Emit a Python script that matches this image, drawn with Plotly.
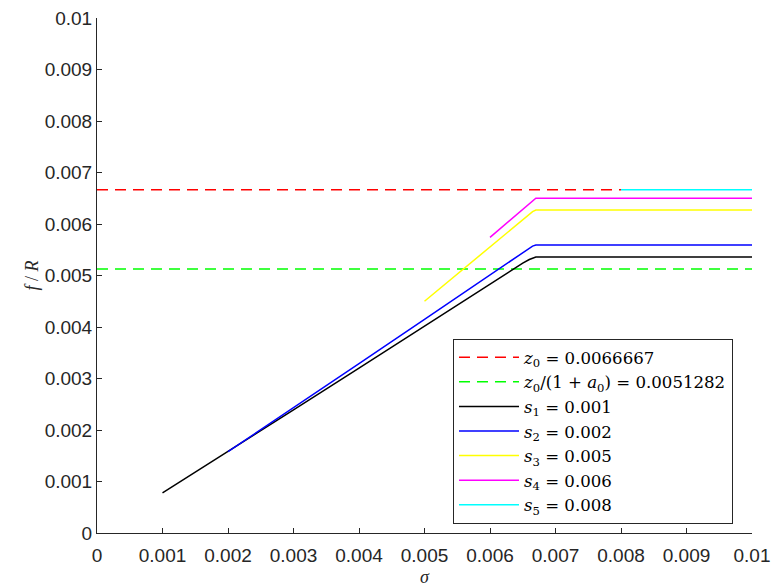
import plotly.graph_objects as go

# ---- data ----
z0 = 0.0066667
z0_a0 = 0.0051282

red_x = [0.0, 0.008]
red_y = [z0, z0]
green_x = [0.0, 0.01]
green_y = [z0_a0, z0_a0]

s1_x = [0.001, 0.002, 0.003, 0.004, 0.005, 0.006, 0.0065, 0.0066, 0.00665, 0.0067, 0.01]
s1_y = [0.00078, 0.00158, 0.00239, 0.00320, 0.00402, 0.00484, 0.00524, 0.00531, 0.00534, 0.00536, 0.00536]

s2_x = [0.002, 0.003, 0.004, 0.005, 0.006, 0.0065, 0.0066, 0.00665, 0.0067, 0.01]
s2_y = [0.00158, 0.00243, 0.00329, 0.00415, 0.00501, 0.00544, 0.00553, 0.00557, 0.00559, 0.00559]

s3_x = [0.005, 0.006, 0.0065, 0.0066, 0.00665, 0.0067, 0.01]
s3_y = [0.00450, 0.00555, 0.00608, 0.00618, 0.00624, 0.00627, 0.00627]

s4_x = [0.006, 0.0065, 0.0066, 0.00665, 0.0067, 0.01]
s4_y = [0.00574, 0.00629, 0.00640, 0.00646, 0.00650, 0.00650]

s5_x = [0.008, 0.01]
s5_y = [z0, z0]

tick_vals = [0, 0.001, 0.002, 0.003, 0.004, 0.005, 0.006, 0.007, 0.008, 0.009, 0.01]
tick_text = ["0", "0.001", "0.002", "0.003", "0.004", "0.005", "0.006", "0.007", "0.008", "0.009", "0.01"]

names = [
    "<i>z</i><sub>0</sub> = 0.0066667",
    "<i>z</i><sub>0</sub>/(1 + <i>a</i><sub>0</sub>) = 0.0051282",
    "<i>s</i><sub>1</sub> = 0.001",
    "<i>s</i><sub>2</sub> = 0.002",
    "<i>s</i><sub>3</sub> = 0.005",
    "<i>s</i><sub>4</sub> = 0.006",
    "<i>s</i><sub>5</sub> = 0.008",
]

series = [
    (red_x, red_y, "#ff0000", "11px,7px"),
    (green_x, green_y, "#00ff00", "11px,7px"),
    (s1_x, s1_y, "#000000", "solid"),
    (s2_x, s2_y, "#0000ff", "solid"),
    (s3_x, s3_y, "#ffff00", "solid"),
    (s4_x, s4_y, "#ff00ff", "solid"),
    (s5_x, s5_y, "#00ffff", "solid"),
]

fig = go.Figure()
for (xs, ys, c, d), nm in zip(series, names):
    fig.add_trace(go.Scatter(x=xs, y=ys, mode="lines", name=nm,
                             line=dict(color=c, width=1.5, dash=d)))

axis_common = dict(
    showline=True, linecolor="#262626", linewidth=1,
    ticks="inside", ticklen=5, tickcolor="#262626", tickwidth=1,
    showgrid=False, zeroline=False, mirror=False, automargin=False,
    tickvals=tick_vals, ticktext=tick_text,
    tickfont=dict(family="Liberation Sans, Arial, sans-serif", size=19, color="#262626"),
)

fig.update_layout(
    width=773, height=587,
    margin=dict(l=97, r=21, t=18, b=54),
    paper_bgcolor="white", plot_bgcolor="white",
    xaxis=dict(range=[0, 0.01], ticklabelstandoff=5,
               title=dict(text="<i>σ</i>", standoff=5,
                          font=dict(family="Liberation Serif, serif", size=18, color="#262626")),
               **axis_common),
    yaxis=dict(range=[0, 0.01],
               title=dict(text="<i>f</i> / <i>R</i>", standoff=1,
                          font=dict(family="Liberation Serif, serif", size=18, color="#262626")),
               **axis_common),
    legend=dict(x=0.5435, y=0.3767, xanchor="left", yanchor="top",
                bgcolor="white", bordercolor="#262626", borderwidth=1,
                font=dict(family="DejaVu Serif, serif", size=16.6, color="#000000"),
                itemwidth=60, tracegroupgap=0),
    showlegend=True,
)

fig.write_html("out.html")
